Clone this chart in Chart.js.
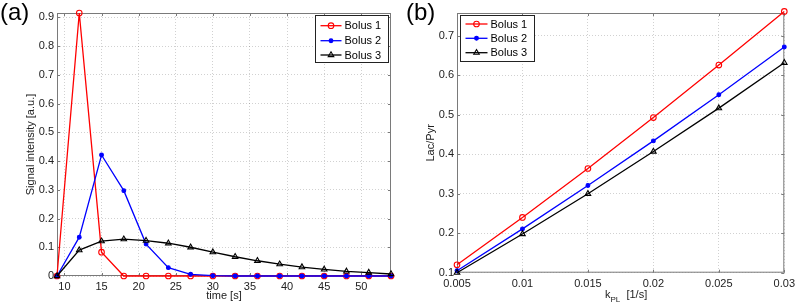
<!DOCTYPE html>
<html>
<head>
<meta charset="utf-8">
<script src="https://cdn.jsdelivr.net/npm/chart.js@4.4.1/dist/chart.umd.min.js"></script>
<style>
    html, body { margin: 0; padding: 0; background: #fff; }
    #wrap { position: relative; width: 800px; height: 305px; }
    .panel { position: absolute; top: 0; width: 400px; height: 305px; }
</style>
</head>
<body>
<div id="wrap">
    <div class="panel" style="left:0"><canvas id="chartA" width="400" height="305"></canvas></div>
    <div class="panel" style="left:400px"><canvas id="chartB" width="400" height="305"></canvas></div>
</div>
<script>
// (a) сигнал во времени
const timeS = [9, 12, 15, 18, 21, 24, 27, 30, 33, 36, 39, 42, 45, 48, 51, 54];
const bolus1Signal = [0, 0.915, 0.083, 0, 0, 0, 0, 0, 0, 0, 0, 0, 0, 0, 0, 0];
const bolus2Signal = [0, 0.135, 0.421, 0.297, 0.111, 0.029, 0.006, 0.001, 0, 0, 0, 0, 0, 0, 0, 0];
const bolus3Signal = [0, 0.09, 0.121, 0.128, 0.123, 0.114, 0.1, 0.083, 0.067, 0.053, 0.041, 0.031, 0.023, 0.016, 0.012, 0.007];
const timeTicks = [10, 15, 20, 25, 30, 35, 40, 45, 50];
const signalTicks = [0, 0.1, 0.2, 0.3, 0.4, 0.5, 0.6, 0.7, 0.8, 0.9];

// (b) Lac/Pyr против kPL
const kPL = [0.005, 0.01, 0.015, 0.02, 0.025, 0.03];
const bolus1Ratio = [0.12, 0.24, 0.364, 0.493, 0.626, 0.762];
const bolus2Ratio = [0.105, 0.211, 0.321, 0.434, 0.551, 0.672];
const bolus3Ratio = [0.1, 0.198, 0.3, 0.407, 0.517, 0.632];
const kplTicks = [0.005, 0.01, 0.015, 0.02, 0.025, 0.03];
const ratioTicks = [0.1, 0.2, 0.3, 0.4, 0.5, 0.6, 0.7];

const seriesNames = ['Bolus 1', 'Bolus 2', 'Bolus 3'];

const FONT = 'Liberation Sans, Arial, sans-serif';
const AXIS_COLOR = '#7a7a7a';
const GRID_COLOR = 'rgba(0,0,0,0.18)';

Chart.defaults.font.family = FONT;
Chart.defaults.font.size = 11;
Chart.defaults.color = '#222';

const styles = [
    { color: '#ff0000', pointStyle: 'circle', fill: 'rgba(0,0,0,0)', radius: 2.8, order: 3 },
    { color: '#0000ff', pointStyle: 'circle', fill: '#0000ff', radius: 1.9, order: 2 },
    { color: '#000000', pointStyle: 'triangle', fill: 'rgba(0,0,0,0)', radius: 3.2, order: 1 }
];

function makeDatasets(xs, seriesList) {
    return seriesList.map((ys, i) => ({
        label: seriesNames[i],
        data: xs.map((x, j) => ({ x: x, y: ys[j] })),
        borderColor: styles[i].color,
        backgroundColor: styles[i].fill,
        pointBorderColor: styles[i].color,
        pointBackgroundColor: styles[i].fill,
        pointStyle: styles[i].pointStyle,
        pointRadius: styles[i].radius,
        pointBorderWidth: 1.1,
        borderWidth: 1.3,
        order: styles[i].order,
        clip: false
    }));
}

const fmt = v => String(+Number(v).toFixed(3));

// рамка, засечки, буква панели, легенда
const matlabPlugin = {
    id: 'matlab',
    beforeDatasetsDraw(chart, args, opts) {
        const ctx = chart.ctx;
        const a = chart.chartArea;
        const xs = chart.scales.x, ys = chart.scales.y;
        ctx.save();
        ctx.strokeStyle = AXIS_COLOR;
        ctx.lineWidth = 1;
        ctx.strokeRect(a.left + 0.5, a.top + 0.5, a.right - a.left - 1, a.bottom - a.top - 1);
        ctx.beginPath();
        xs.ticks.forEach(t => {
            const px = Math.round(xs.getPixelForValue(t.value)) + 0.5;
            ctx.moveTo(px, a.bottom); ctx.lineTo(px, a.bottom - 3);
            ctx.moveTo(px, a.top); ctx.lineTo(px, a.top + 3);
        });
        ys.ticks.forEach(t => {
            const py = Math.round(ys.getPixelForValue(t.value)) + 0.5;
            ctx.moveTo(a.left, py); ctx.lineTo(a.left + 3, py);
            ctx.moveTo(a.right, py); ctx.lineTo(a.right - 3, py);
        });
        ctx.stroke();
        ctx.restore();
    },
    afterDraw(chart, args, opts) {
        const ctx = chart.ctx;
        ctx.save();
        // буква панели
        ctx.fillStyle = '#000';
        ctx.font = '24px ' + FONT;
        ctx.textBaseline = 'top';
        ctx.textAlign = 'left';
        ctx.fillText(opts.letter, opts.letterX, 1);

        // легенда
        const L = opts.legend;
        ctx.fillStyle = '#fff';
        ctx.fillRect(L.x, L.y, L.w, L.h);
        ctx.strokeStyle = '#222';
        ctx.lineWidth = 1;
        ctx.strokeRect(L.x + 0.5, L.y + 0.5, L.w, L.h);
        chart.data.datasets.forEach((ds, i) => {
            const ry = L.rows[i];
            ctx.strokeStyle = ds.borderColor;
            ctx.lineWidth = ds.borderWidth;
            ctx.beginPath();
            ctx.moveTo(L.lineX0, ry);
            ctx.lineTo(L.lineX1, ry);
            ctx.stroke();
            ctx.fillStyle = ds.pointBackgroundColor;
            ctx.strokeStyle = ds.pointBorderColor;
            ctx.lineWidth = ds.pointBorderWidth;
            Chart.helpers.drawPoint(ctx, {
                pointStyle: ds.pointStyle, radius: ds.pointRadius, rotation: 0, borderWidth: ds.pointBorderWidth
            }, (L.lineX0 + L.lineX1) / 2, ry);
            ctx.fillStyle = '#000';
            ctx.font = '11px ' + FONT;
            ctx.textBaseline = 'middle';
            ctx.textAlign = 'left';
            ctx.fillText(ds.label, L.textX, ry + 0.5);
        });

        // подпись оси x с нижним индексом
        if (opts.kplTitle) {
            const t = opts.kplTitle;
            ctx.fillStyle = '#222';
            ctx.textBaseline = 'middle';
            ctx.textAlign = 'left';
            ctx.font = '11px ' + FONT;
            ctx.fillText('k', t.x, t.y);
            const kw = ctx.measureText('k').width;
            ctx.font = '8px ' + FONT;
            ctx.fillText('PL', t.x + kw, t.y + 5);
            const pw = ctx.measureText('PL').width;
            ctx.font = '11px ' + FONT;
            ctx.fillText('  [1/s]', t.x + kw + pw, t.y);
        }
        ctx.restore();
    }
};

function gridOpts() {
    return {
        color: GRID_COLOR,
        lineWidth: 1,
        drawTicks: false
    };
}

// График (a)
new Chart(document.getElementById('chartA').getContext('2d'), {
    type: 'line',
    data: { datasets: makeDatasets(timeS, [bolus1Signal, bolus2Signal, bolus3Signal]) },
    options: {
        responsive: false,
        animation: false,
        layout: { padding: { top: 13, right: 9, left: 0, bottom: 0 } },
        plugins: {
            legend: { display: false },
            tooltip: { enabled: false },
            matlab: {
                letter: '(a)', letterX: 0,
                legend: { x: 315, y: 15, w: 73, h: 47, rows: [25.7, 40.7, 55], lineX0: 320.5, lineX1: 341.5, textX: 344.5 }
            }
        },
        scales: {
            x: {
                type: 'linear', min: 9, max: 54,
                border: { display: false, dash: [1, 2] },
                grid: gridOpts(),
                ticks: { padding: 4, callback: fmt },
                afterBuildTicks: s => { s.ticks = timeTicks.map(v => ({ value: v })); },
                afterFit: s => { s.height = 29; },
                title: { display: true, text: 'time [s]', padding: { top: 0, bottom: 2.7 }, font: { size: 11 } }
            },
            y: {
                type: 'linear', min: 0, max: 0.915,
                border: { display: false, dash: [1, 2] },
                grid: gridOpts(),
                ticks: { padding: 3, callback: fmt },
                afterBuildTicks: s => { s.ticks = signalTicks.map(v => ({ value: v })); },
                afterFit: s => { s.width = 57; },
                title: { display: true, text: 'Signal intensity [a.u.]', padding: { top: 24.4, bottom: 0 }, font: { size: 11 } }
            }
        }
    },
    plugins: [matlabPlugin]
});

// График (b)
new Chart(document.getElementById('chartB').getContext('2d'), {
    type: 'line',
    data: { datasets: makeDatasets(kPL, [bolus1Ratio, bolus2Ratio, bolus3Ratio]) },
    options: {
        responsive: false,
        animation: false,
        layout: { padding: { top: 13, right: 9, left: 0, bottom: 0 } },
        plugins: {
            legend: { display: false },
            tooltip: { enabled: false },
            matlab: {
                letter: '(b)', letterX: 6,
                legend: { x: 60, y: 15, w: 74, h: 46, rows: [24, 38.3, 52.7], lineX0: 65.5, lineX1: 87.5, textX: 90.5 },
                kplTitle: { x: 205, y: 295 }
            }
        },
        scales: {
            x: {
                type: 'linear', min: 0.005, max: 0.03,
                border: { display: false, dash: [1, 2] },
                grid: gridOpts(),
                ticks: { padding: 5, callback: fmt },
                afterBuildTicks: s => { s.ticks = kplTicks.map(v => ({ value: v })); },
                afterFit: s => { s.height = 32.3; }
            },
            y: {
                type: 'linear', min: 0.1, max: 0.758,
                border: { display: false, dash: [1, 2] },
                grid: gridOpts(),
                ticks: { padding: 3, callback: fmt },
                afterBuildTicks: s => { s.ticks = ratioTicks.map(v => ({ value: v })); },
                afterFit: s => { s.width = 57; },
                title: { display: true, text: 'Lac/Pyr', padding: { top: 24.4, bottom: 0 }, font: { size: 11 } }
            }
        }
    },
    plugins: [matlabPlugin]
});
</script>
</body>
</html>
